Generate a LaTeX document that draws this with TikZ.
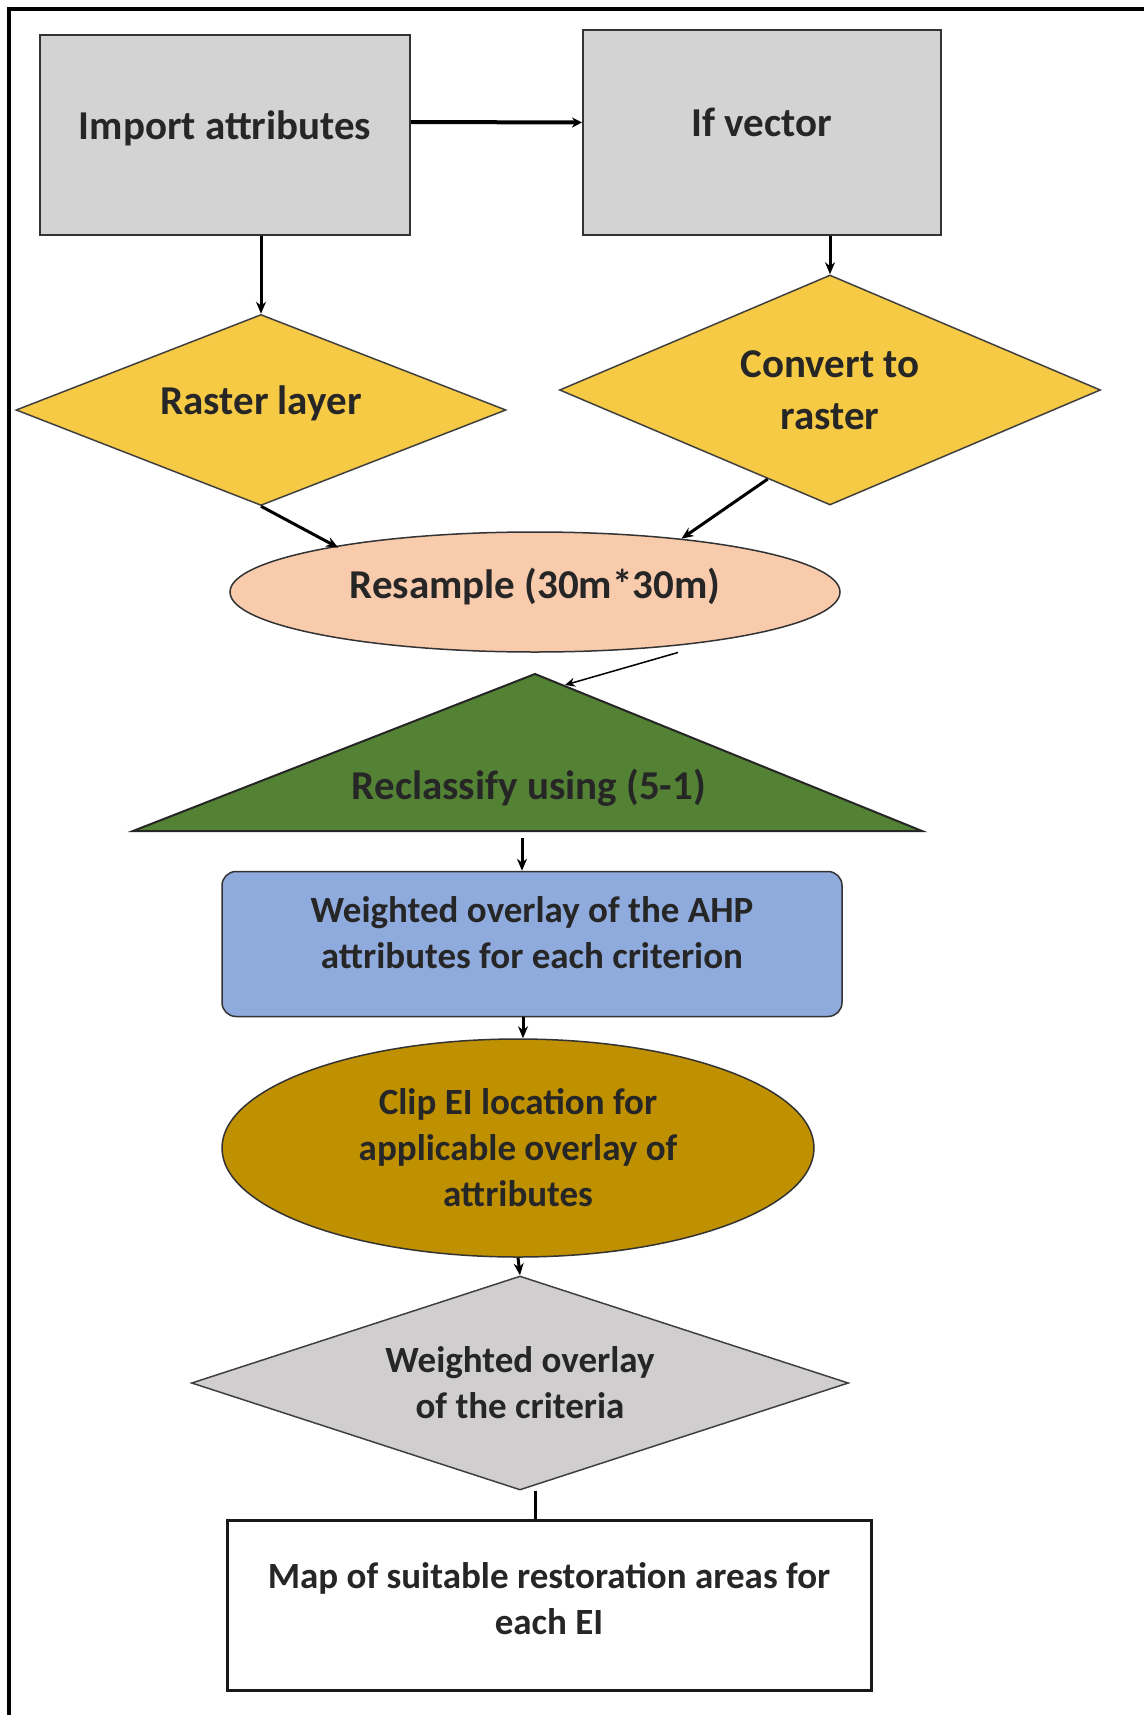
\documentclass[tikz,border=0pt]{standalone}
\usepackage{fontspec}
\setmainfont{Carlito}
\usetikzlibrary{shapes.geometric,arrows.meta}
\definecolor{boxgray}{HTML}{D3D3D3}
\definecolor{diayel}{HTML}{F7CA45}
\definecolor{peach}{HTML}{F8CBAD}
\definecolor{trigreen}{HTML}{548235}
\definecolor{boxblue}{HTML}{8FAADC}
\definecolor{gold}{HTML}{BF9000}
\definecolor{diagray}{HTML}{D0CECE}
\definecolor{txt}{HTML}{262626}
\newcommand{\up}[2]{\raisebox{#1}[\height][\depth]{#2}}
\begin{document}
\begin{tikzpicture}[x=1pt,y=-1pt,
  every node/.style={text=txt, inner sep=0pt, align=center},
  big/.style={font=\fontsize{41}{52}\selectfont\bfseries},
  mid/.style={font=\fontsize{37}{46}\selectfont\bfseries},
  graybox/.style={big, draw=black!80, line width=2pt, fill=boxgray},
  yeldia/.style={big, diamond, aspect=2.5, draw=black!75, line width=1.5pt, fill=diayel},
  conn/.style={line width=3pt, -{Stealth[length=12pt,width=10pt]}},
  plain/.style={line width=3pt}]
\useasboundingbox (0,0) rectangle (1144,1715);
\fill[white] (0,0) rectangle (1144,1715);
\draw[line width=4pt] (9,1715) -- (9,9) -- (1144,9);

\node[graybox, minimum width=370pt, minimum height=200pt] (imp) at (225,135) {\up{6.5pt}{Import attributes}};
\node[graybox, minimum width=358pt, minimum height=205pt] (ifv) at (762,132.5) {\up{10pt}{If vector}};
\node[yeldia, minimum width=490pt, minimum height=191pt] (ras) at (261,410) {\up{6.5pt}{Raster layer}};
\node[yeldia, minimum width=541pt, minimum height=230pt] (conv) at (830,390) {Convert to\\raster};
\node[big, ellipse, draw=black!80, line width=1.5pt, fill=peach, minimum width=610pt, minimum height=120pt] (res) at (535,592) {\up{5.5pt}{Resample (30m*30m)}};

\fill[trigreen, draw=black!85, line width=2pt] (535,674) -- (922,831) -- (133,831) -- cycle;
\node[big] (recl) at (529,788) {Reclassify using (5-1)};
\coordinate (apexr) at (565,685);
\coordinate (tb) at (522,838);

\node[mid, draw=black!80, line width=1.5pt, fill=boxblue, rounded corners=14pt, minimum width=620pt, minimum height=145pt] (wov) at (532,944) {\up{11.5pt}{\parbox{600pt}{\centering Weighted overlay of the AHP\\attributes for each criterion}}};
\node[mid, ellipse, draw=black!80, line width=1.5pt, fill=gold, minimum width=592pt, minimum height=218pt] (clip) at (518,1148) {Clip EI location for\\applicable overlay of\\attributes};
\node[mid, diamond, aspect=3.07, draw=black!75, line width=1.5pt, fill=diagray, minimum width=657pt, minimum height=214pt] (wo) at (520,1383) {Weighted overlay\\of the criteria};
\node[mid, draw=black!90, line width=3pt, fill=white, minimum width=644pt, minimum height=170pt] (map) at (549,1605) {\up{6.5pt}{\parbox{630pt}{\centering Map of suitable restoration areas for\\each EI}}};

\draw[line width=4pt, -{Stealth[length=10pt,width=10pt]}] ([yshift=13pt]imp.east) -- ([yshift=10pt]ifv.west);
\draw[conn] (ras.north |- imp.south) -- (ras.north);
\draw[conn] (conv.north |- ifv.south) -- (conv.north);
\draw[conn] (ras.south) -- ([xshift=12pt]res.168);
\draw[conn] (conv.235) -- (res.20);
\draw[line width=1.5pt, -{Stealth[length=10pt,width=9pt]}] ([xshift=8pt,yshift=-6pt]res.-22) -- (apexr);
\draw[conn] (tb) -- (tb |- wov.north);
\draw[conn] ([xshift=5pt]clip.north |- wov.south) -- ([xshift=5pt]clip.north);
\draw[conn] (clip.south) -- (wo.north);
\draw[plain] ([xshift=15pt]wo.south) -- ([xshift=15pt]wo.south |- map.north);
\end{tikzpicture}
\end{document}
